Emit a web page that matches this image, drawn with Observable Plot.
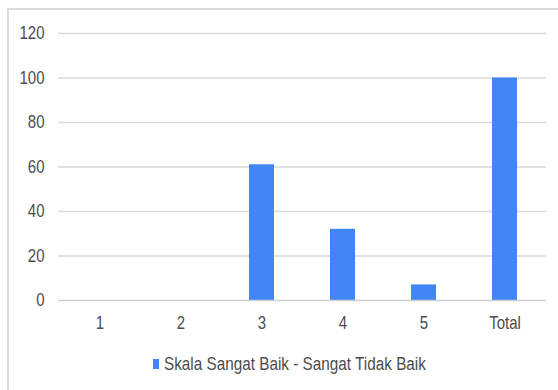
<!DOCTYPE html>
<html>
<head>
<meta charset="utf-8">
<script src="https://cdn.jsdelivr.net/npm/d3@7"></script>
<script src="https://cdn.jsdelivr.net/npm/@observablehq/plot@0.6"></script>
<style>
  html, body { margin: 0; padding: 0; background: #fff; }
  body { width: 558px; height: 390px; overflow: hidden; position: relative;
         font-family: Arial, "Liberation Sans", sans-serif; }
  #frame { position: absolute; left: 7px; top: 8px; right: -4px; bottom: -4px;
           border-left: 2px solid #dadada; border-top: 2px solid #dadada; pointer-events: none; }
  #chart { position: absolute; left: 0; top: 0; }
  #legend { position: absolute; left: 153px; top: 355px; height: 18px; display: flex; align-items: center;
            font-size: 15.3px; color: #4d4d4d; }
  #legend .swatch { width: 6px; height: 10px; background: #4285f4; margin-right: 5px; }
  #legend-label { display: inline-block; transform: scaleY(1.18); }
</style>
</head>
<body>
<div id="frame"></div>
<div id="chart"></div>
<div id="legend"><span class="swatch"></span><span id="legend-label"></span></div>
<script>
// Skala penilaian responden: 1 = sangat baik ... 5 = sangat tidak baik, plus total
const categories = ["1", "2", "3", "4", "5", "Total"];
const values = [0, 0, 61, 32, 7, 100];
const yTicks = [0, 20, 40, 60, 80, 100, 120];
const seriesName = "Skala Sangat Baik - Sangat Tidak Baik";

const data = categories.map((c, i) => ({category: c, value: values[i]}));

const chart = Plot.plot({
  width: 558,
  height: 340,
  marginLeft: 58,
  marginRight: 12,
  marginTop: 33,
  marginBottom: 40,
  style: {fontFamily: "Arial, 'Liberation Sans', sans-serif", fontSize: "15px", color: "#4d4d4d", background: "transparent"},
  x: {domain: categories, paddingInner: 0.69, paddingOuter: 0.345, label: null},
  y: {domain: [0, 120], label: null},
  marks: [
    Plot.ruleY(yTicks.filter(t => t > 0), {stroke: "#d9d9d9", strokeWidth: 1.4}),
    Plot.barY(data, {x: "category", y: "value", fill: "#4285f4"}),
    Plot.ruleY([0], {stroke: "#cfcfcf", strokeWidth: 1.4}),
    Plot.axisY({ticks: yTicks, tickSize: 0, tickPadding: 14, label: null, fill: "#4d4d4d"}),
    Plot.axisX({tickSize: 0, tickPadding: 17, label: null, fill: "#4d4d4d"})
  ]
});
document.getElementById("chart").append(chart);
document.getElementById("legend-label").textContent = seriesName;

// Tall, narrow tick lettering: stretch each label vertically about its own centre
chart.querySelectorAll("g[aria-label$='tick label'] text").forEach((t) => {
  const b = t.getBBox();
  const cy = b.y + b.height / 2;
  const prev = t.getAttribute("transform") || "";
  t.setAttribute("transform", `${prev} translate(0,${cy}) scale(1,1.18) translate(0,${-cy})`.trim());
});
</script>
</body>
</html>
